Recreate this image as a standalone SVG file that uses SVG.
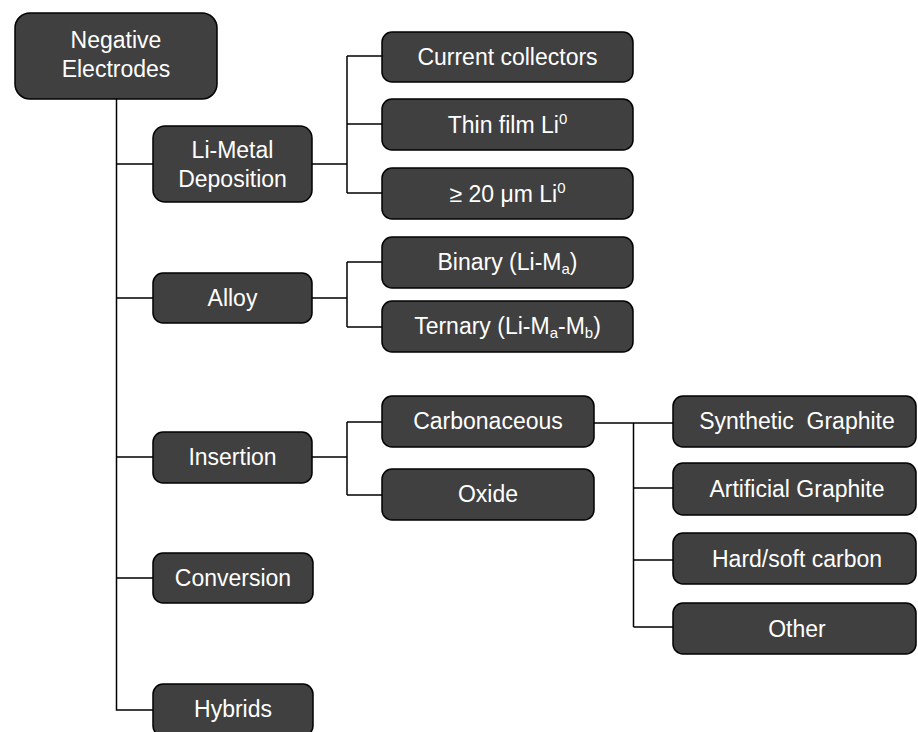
<svg xmlns="http://www.w3.org/2000/svg" width="918" height="732" viewBox="0 0 918 732">
<style>
.n{fill:#404040;stroke:#000;stroke-width:1.5}
.t{fill:#fff;font-family:"Liberation Sans",Arial,sans-serif;font-size:23px;text-anchor:middle}
.c{fill:none;stroke:#000;stroke-width:1.5}
</style>
<rect width="918" height="732" fill="#fff"/>
<g id="connectors">
<path class="c" d="M116.5 99V710H153"/>
<path class="c" d="M116.5 164H153M116.5 298H153M116.5 457H153M116.5 578H153"/>
<path class="c" d="M312 164H347M347 56V193M347 56H382M347 124H382M347 193H382"/>
<path class="c" d="M312 298H347M347 262V327M347 262H382M347 327H382"/>
<path class="c" d="M312 457H347M347 422V495M347 422H382M347 495H382"/>
<path class="c" d="M594 423H673M633.5 423V627M633.5 488H673M633.5 560H673M633.5 627H673"/>
</g>
<g id="root"><rect class="n" x="15" y="13" width="202" height="86" rx="15"/><text class="t" x="116" y="48">Negative</text><text class="t" x="116" y="77">Electrodes</text></g>
<g id="limetal"><rect class="n" x="153" y="126" width="159" height="76" rx="12"/><text class="t" x="232.5" y="158">Li-Metal</text><text class="t" x="232.5" y="187">Deposition</text></g>
<g id="cc"><rect class="n" x="382" y="32" width="251" height="50" rx="10"/><text class="t" x="507.5" y="65">Current collectors</text></g>
<g id="thin"><rect class="n" x="382" y="99" width="251" height="51" rx="10"/><text class="t" x="507.5" y="133">Thin film Li<tspan font-size="15" dy="-9">0</tspan></text></g>
<g id="thick"><rect class="n" x="382" y="168" width="251" height="51" rx="10"/><text class="t" x="507.5" y="202">≥ 20 μm Li<tspan font-size="15" dy="-9">0</tspan></text></g>
<g id="alloy"><rect class="n" x="153" y="273" width="159" height="50" rx="10"/><text class="t" x="232.5" y="306">Alloy</text></g>
<g id="binary"><rect class="n" x="382" y="237" width="251" height="51" rx="10"/><text class="t" x="507.5" y="270">Binary (Li-M<tspan font-size="15" dy="4">a</tspan><tspan dy="-4">)</tspan></text></g>
<g id="ternary"><rect class="n" x="382" y="301" width="251" height="51" rx="10"/><text class="t" x="507.5" y="334">Ternary (Li-M<tspan font-size="15" dy="4">a</tspan><tspan dy="-4">-M</tspan><tspan font-size="15" dy="4">b</tspan><tspan dy="-4">)</tspan></text></g>
<g id="insertion"><rect class="n" x="153" y="432" width="159" height="51" rx="10"/><text class="t" x="232.5" y="465">Insertion</text></g>
<g id="carbon"><rect class="n" x="382" y="396" width="212" height="51" rx="10"/><text class="t" x="488" y="429">Carbonaceous</text></g>
<g id="oxide"><rect class="n" x="382" y="469" width="212" height="51" rx="10"/><text class="t" x="488" y="502">Oxide</text></g>
<g id="synthetic"><rect class="n" x="673" y="396" width="243" height="51" rx="10"/><text class="t" x="797" y="429">Synthetic&#160; Graphite</text></g>
<g id="artificial"><rect class="n" x="673" y="463" width="243" height="52" rx="10"/><text class="t" x="797" y="497">Artificial Graphite</text></g>
<g id="hard"><rect class="n" x="673" y="533" width="243" height="51" rx="10"/><text class="t" x="797" y="567">Hard/soft carbon</text></g>
<g id="other"><rect class="n" x="673" y="603" width="243" height="51" rx="10"/><text class="t" x="797" y="637">Other</text></g>
<g id="conversion"><rect class="n" x="153" y="553" width="160" height="50" rx="10"/><text class="t" x="233" y="586">Conversion</text></g>
<g id="hybrids"><rect class="n" x="153" y="684" width="160" height="52" rx="10"/><text class="t" x="233" y="717">Hybrids</text></g>
</svg>
